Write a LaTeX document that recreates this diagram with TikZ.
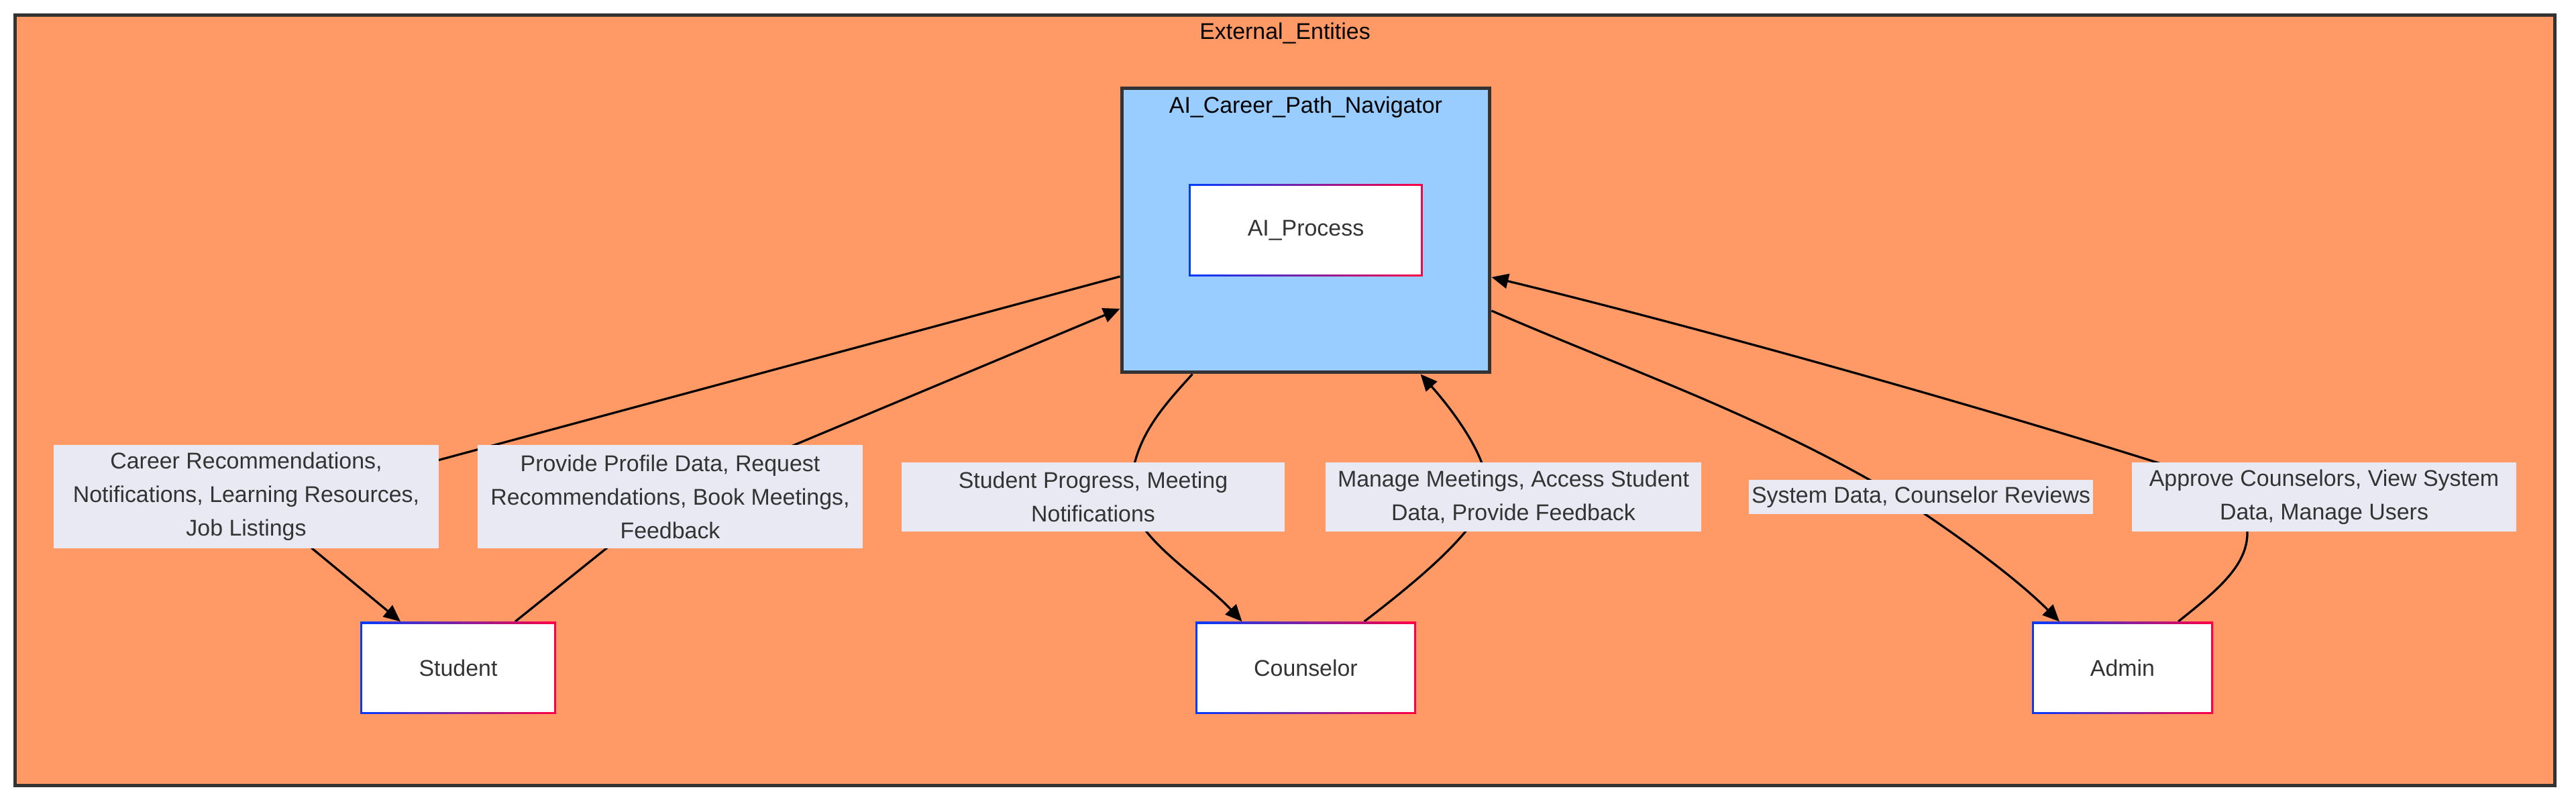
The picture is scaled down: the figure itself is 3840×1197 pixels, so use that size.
\documentclass[tikz,border=0pt]{standalone}
\usepackage{fontspec}
\setmainfont{Liberation Sans}
\usetikzlibrary{arrows.meta,calc}
\definecolor{orangebg}{HTML}{FF9966}
\definecolor{bluebg}{HTML}{99CCFF}
\definecolor{bordercol}{HTML}{333333}
\definecolor{txt}{HTML}{333333}
\definecolor{lblbg}{RGB}{232,233,242}
\definecolor{gblue}{RGB}{0,60,255}
\definecolor{gred}{RGB}{255,0,68}
\pgfdeclarelayer{clusterlayer}
\pgfdeclarelayer{edgelayer}
\pgfsetlayers{clusterlayer,edgelayer,main}
\begin{document}
\begin{tikzpicture}[x=0.02cm,y=-0.02cm,
  basefont/.style={font=\fontsize{19.3}{28.45}\selectfont},
  cluster/.style={draw=bordercol, line width=0.1cm, inner sep=0pt, rectangle},
  ctitle/.style={basefont, text=black, inner sep=0pt},
  ent/.style={rectangle, inner sep=0pt, minimum height=2.74cm, basefont, text=txt,
    left color=gblue, right color=gred,
    path picture={\fill[white] ([shift={(0.06cm,0.06cm)}]path picture bounding box.south west) rectangle ([shift={(-0.06cm,-0.06cm)}]path picture bounding box.north east);}},
  lbl/.style={rectangle, fill=lblbg, inner sep=0pt, basefont, text=txt, align=center},
  edge/.style={draw=black, line width=0.065cm, line join=round, -{Triangle[length=0.5cm,width=0.44cm]}}
]
\useasboundingbox (0,0) rectangle (3840,1197);

% clusters
\begin{pgfonlayer}{clusterlayer}
\node[cluster, fill=orangebg, minimum width=75.74cm, minimum height=22.98cm] (ext) at (1915.5,596.5) {};
\node[cluster, fill=bluebg, minimum width=10.98cm, minimum height=8.48cm] (nav) at (1946.5,343) {};
\end{pgfonlayer}
\node[ctitle] (exttitle) at (1915.5,50) {External\_Entities};
\node[ctitle] (navtitle) at (1946.5,160) {AI\_Career\_Path\_Navigator};

% entity nodes
\node[ent, minimum width=6.98cm, minimum height=2.76cm] (aiproc) at (1946.5,343) {AI\_Process};
\node[ent, minimum width=5.84cm] (student) at (683,995) {Student};
\node[ent, minimum width=6.58cm] (counselor) at (1946.5,995) {Counselor};
\node[ent, minimum width=5.4cm] (admin) at (3164,995) {Admin};

% edge labels
\node[lbl, minimum width=11.48cm, minimum height=3.08cm] (l1) at (367,740) {Career Recommendations,\\Notifications, Learning Resources,\\Job Listings};
\node[lbl, minimum width=11.48cm, minimum height=3.08cm] (l2) at (999,740) {Provide Profile Data, Request\\Recommendations, Book Meetings,\\Feedback};
\node[lbl, minimum width=11.42cm, minimum height=2.06cm] (l3) at (1629.5,740.5) {Student Progress, Meeting\\Notifications};
\node[lbl, minimum width=11.2cm, minimum height=2.06cm] (l4) at (2256,740.5) {Manage Meetings, Access Student\\Data, Provide Feedback};
\node[lbl, minimum width=10.26cm, minimum height=1.02cm] (l5) at (2863.5,740.5) {System Data, Counselor Reviews};
\node[lbl, minimum width=11.46cm, minimum height=2.06cm] (l6) at (3464.5,740.5) {Approve Counselors, View System\\Data, Manage Users};

% connectors
\begin{pgfonlayer}{edgelayer}
\draw[edge] ($(nav.west)+(0,69)$) -- (600,700) -- (465,817) -- ($(student.north)+(-86,0)$);
\draw[edge] ($(student.north)+(85,0)$) -- (1000,740) -- ($(nav.west)+(0,117)$);
\draw[edge] ($(nav.south)+(-169,0)$) .. controls (1725,615) and (1686,660) .. (1685,740) .. controls (1688,800) and (1790,860) .. ($(counselor.north)+(-95,0)$);
\draw[edge] ($(counselor.north)+(87,0)$) .. controls (2120,860) and (2202,790) .. (2215,740) .. controls (2228,690) and (2160,605) .. ($(nav.south)+(171,0)$);
\draw[edge] ($(nav.east)+(0,120)$) .. controls (2421,549) and (2630,620) .. (2830,740) .. controls (2900,785) and (3000,856) .. ($(admin.north)+(-94,0)$);
\draw[edge] ($(admin.north)+(83,0)$) .. controls (3310,876) and (3352,840) .. (3350,790) .. controls (3348,740) and (3280,710) .. (3215,689) .. controls (2900,590) and (2500,480) .. ($(nav.east)+(0,70)$);
\end{pgfonlayer}
\end{tikzpicture}
\end{document}
